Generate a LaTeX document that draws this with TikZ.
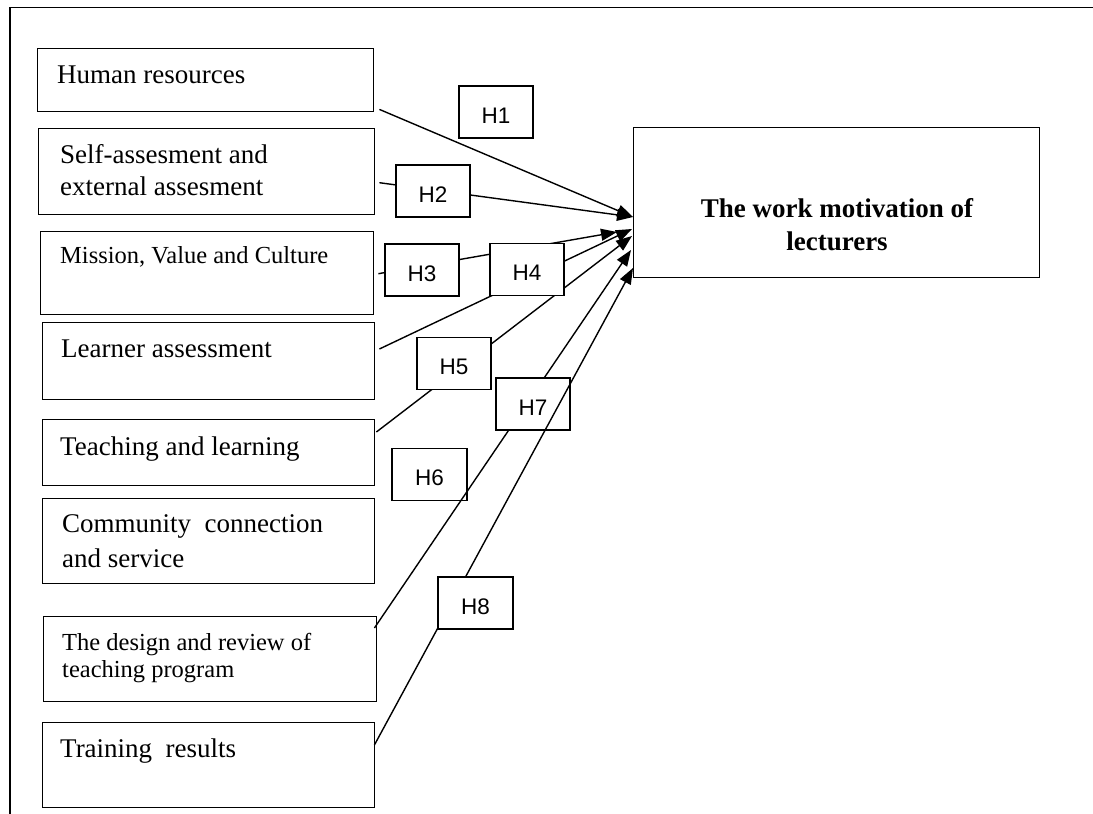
\documentclass[tikz,border=0pt]{standalone}
\usepackage{fontspec}
\setmainfont{Liberation Serif}
\newfontfamily\hfont{Liberation Sans}
\usetikzlibrary{arrows.meta,calc}
\begin{document}
\begin{tikzpicture}[x=1pt,y=-1pt,
  box/.style={draw, line width=1.4pt, anchor=north west, inner sep=0pt},
  lbl/.style={anchor=base west, inner sep=0pt, font=\fontsize{27}{31}\selectfont},
  lbls/.style={anchor=base west, inner sep=0pt, font=\fontsize{24.5}{28}\selectfont},
  hbox/.style={draw, line width=1.4pt, fill=white, minimum width=74pt, minimum height=52pt,
    inner sep=0pt, text height=22.5pt, text depth=0pt, font=\hfont\fontsize{22.5}{26}\selectfont},
  conn/.style={line width=1.4pt, -{Triangle[length=16pt,width=12pt]}},
  ttl/.style={anchor=base, inner sep=0pt, font=\bfseries\fontsize{27}{33}\selectfont},
]
\useasboundingbox (0,0) rectangle (1093,814);
\draw[line width=1.4pt] (10,814) -- (10,7.5) -- (1093,7.5);

% left boxes
\node[box, minimum width=336pt, minimum height=63pt] (hr) at (37,48) {};
\node[box, minimum width=336pt, minimum height=86pt] (sa) at (38,128) {};
\node[box, minimum width=333pt, minimum height=83pt] (mv) at (40,231) {};
\node[box, minimum width=332pt, minimum height=77pt] (la) at (42,322) {};
\node[box, minimum width=332pt, minimum height=66pt] (tl) at (42,419) {};
\node[box, minimum width=332pt, minimum height=85pt] (cc) at (42,498) {};
\node[box, minimum width=333pt, minimum height=85pt] (dr) at (43,616) {};
\node[box, minimum width=332pt, minimum height=85pt] (tr) at (42,722) {};

\node[lbl] (hr-t) at (57,83) {Human resources};
\node[lbl] (sa-t1) at (60,163) {Self-assesment and};
\node[lbl] (sa-t2) at (60,195) {external assesment};
\node[lbls] (mv-t) at (60,263) {Mission, Value and Culture};
\node[lbl] (la-t) at (61,357) {Learner assessment};
\node[lbl] (tl-t) at (60,455) {Teaching and learning};
\node[lbl] (cc-t1) at (62,532) {Community\ \ connection};
\node[lbl] (cc-t2) at (62,567) {and service};
\node[lbls] (dr-t1) at (62,650) {The design and review of};
\node[lbls] (dr-t2) at (62,677) {teaching program};
\node[lbl] (tr-t) at (60,757) {Training\ \ results};

% target
\node[box, minimum width=406pt, minimum height=150pt] (wm) at (633,127) {};
\node[ttl] (wm-t1) at (837,217) {The work motivation of};
\node[ttl] (wm-t2) at (837,250) {lecturers};

% connectors
\draw[conn] ($(hr.south east)+(5,-3)$) -- ($(wm.north west)+(0,90)$);
\draw[conn] ($(sa.east)+(4,11)$) -- ($(wm.north west)+(0,90)$);
\draw[conn] ($(mv.east)+(4,0.5)$) -- ($(wm.north west)+(-16,105)$);
\draw[conn] ($(la.north east)+(4,27)$) -- ($(wm.north west)+(-1,102)$);
\draw[conn] ($(tl.north east)+(1,13)$) -- ($(wm.north west)+(-1,109)$);
\draw[conn] ($(dr.north east)+(-3,12)$) -- ($(wm.north west)+(-2,123)$);

% hypothesis labels
\node[hbox] (h1) at (496,112) {H1};
\node[hbox] (h2) at (433,191) {H2};
\node[hbox] (h3) at (422,270) {H3};
\node[hbox] (h4) at (527,269.5) {H4};
\node[hbox] (h5) at (454,363.5) {H5};
\node[hbox, fill=none, minimum width=75pt] (h6) at (429.5,474.5) {H6};
\node[hbox] (h7) at (533,404) {H7};

\draw[conn] ($(tr.north east)+(-1,23)$) -- ($(wm.north west)+(0,141)$);
\node[hbox, minimum width=75pt] (h8) at (475.5,603) {H8};
\end{tikzpicture}
\end{document}
